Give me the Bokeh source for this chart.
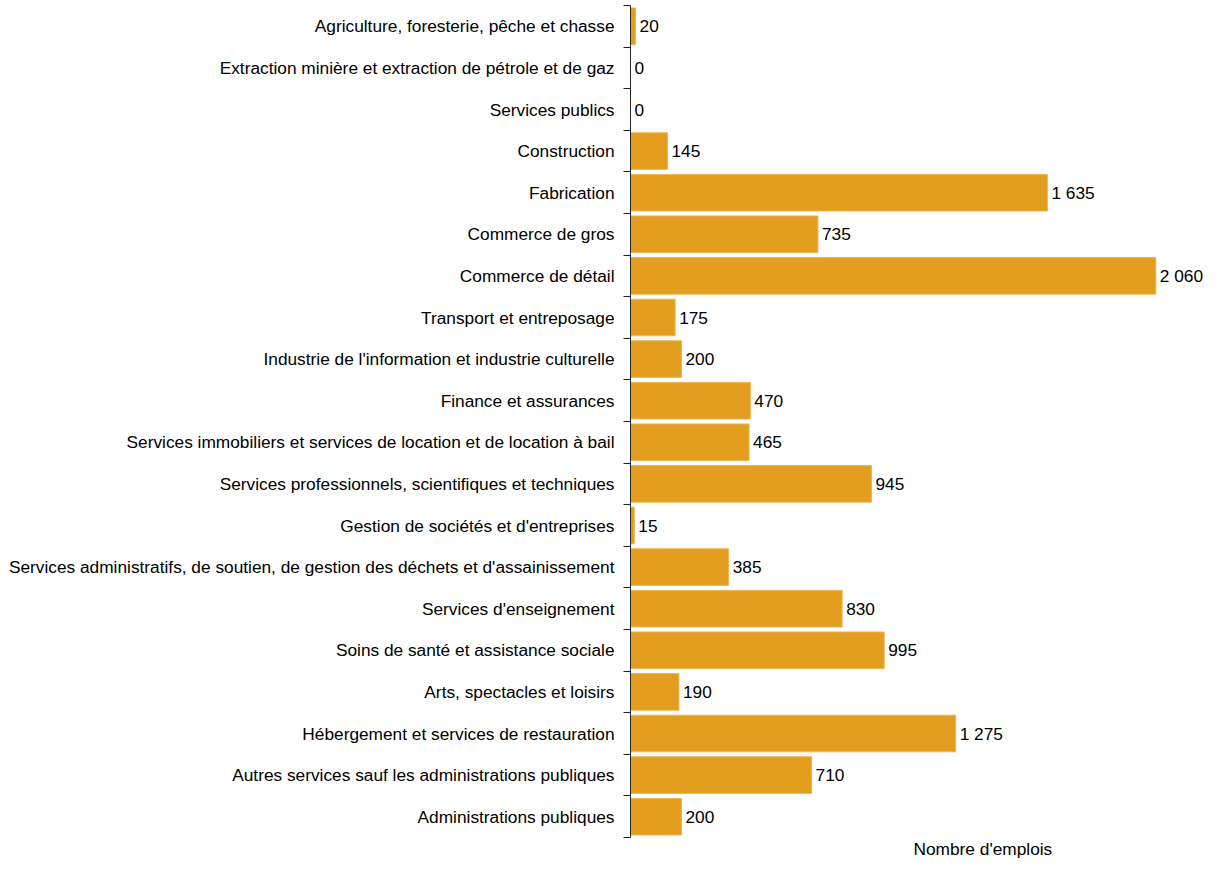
from bokeh.plotting import figure
from bokeh.models import ColumnDataSource, Range1d, FixedTicker, LabelSet, Title
from bokeh.embed import file_html
from bokeh.resources import INLINE
from bokeh.core.properties import value

categories = [
    "Agriculture, foresterie, pêche et chasse",
    "Extraction minière et extraction de pétrole et de gaz",
    "Services publics",
    "Construction",
    "Fabrication",
    "Commerce de gros",
    "Commerce de détail",
    "Transport et entreposage",
    "Industrie de l'information et industrie culturelle",
    "Finance et assurances",
    "Services immobiliers et services de location et de location à bail",
    "Services professionnels, scientifiques et techniques",
    "Gestion de sociétés et d'entreprises",
    "Services administratifs, de soutien, de gestion des déchets et d'assainissement",
    "Services d'enseignement",
    "Soins de santé et assistance sociale",
    "Arts, spectacles et loisirs",
    "Hébergement et services de restauration",
    "Autres services sauf les administrations publiques",
    "Administrations publiques",
]
jobs = [20, 0, 0, 145, 1635, 735, 2060, 175, 200, 470, 465, 945, 15, 385, 830, 995, 190, 1275, 710, 200]
x_label = "Nombre d'emplois"

FONT = "Liberation Sans"
FS = "17.3px"
n = len(categories)
ypos = list(range(n))
labels = ["{:,}".format(v).replace(",", " ") for v in jobs]
src = ColumnDataSource(dict(y=ypos, v=jobs, lab=labels))

W, H = 1203, 859
LEFT, TOP, BOTTOM = 630, 5, 22
XMAX = (W - LEFT) / 0.255

p = figure(width=W, height=H, output_backend="svg", toolbar_location=None,
           x_range=Range1d(0, XMAX), y_range=Range1d(n - 0.5, -0.5),
           min_border_left=LEFT, min_border_right=0, min_border_top=TOP, min_border_bottom=BOTTOM)
p.outline_line_color = None
p.xgrid.visible = False
p.ygrid.visible = False
p.xaxis.visible = False

p.hbar(y="y", right="v", left=0, height=0.88, source=src,
       fill_color="#E49E1F", line_color="#EDB656", line_width=1)

p.add_layout(LabelSet(x="v", y="y", text="lab", source=src, x_offset=4,
                      text_baseline="middle", text_align="left",
                      text_font=value(FONT), text_font_size=FS, text_color="#000000"))

ax = p.yaxis[0]
ax.ticker = FixedTicker(ticks=ypos, minor_ticks=[i - 0.5 for i in range(n + 1)])
ax.major_label_overrides = {i: c for i, c in enumerate(categories)}
ax.major_tick_out = 0
ax.major_tick_in = 0
ax.minor_tick_out = 7
ax.minor_tick_in = 0
ax.minor_tick_line_color = "#222222"
ax.axis_line_color = "#222222"
ax.major_label_standoff = 9
ax.major_label_text_font = FONT
ax.major_label_text_font_size = FS
ax.major_label_text_color = "#000000"

p.add_layout(Title(text=x_label, align="left", offset=913 - LEFT, standoff=0,
                   text_font=FONT, text_font_size=FS, text_font_style="normal",
                   text_color="#000000", vertical_align="middle"), "below")

open("out.html", "w").write(file_html(p, INLINE))
